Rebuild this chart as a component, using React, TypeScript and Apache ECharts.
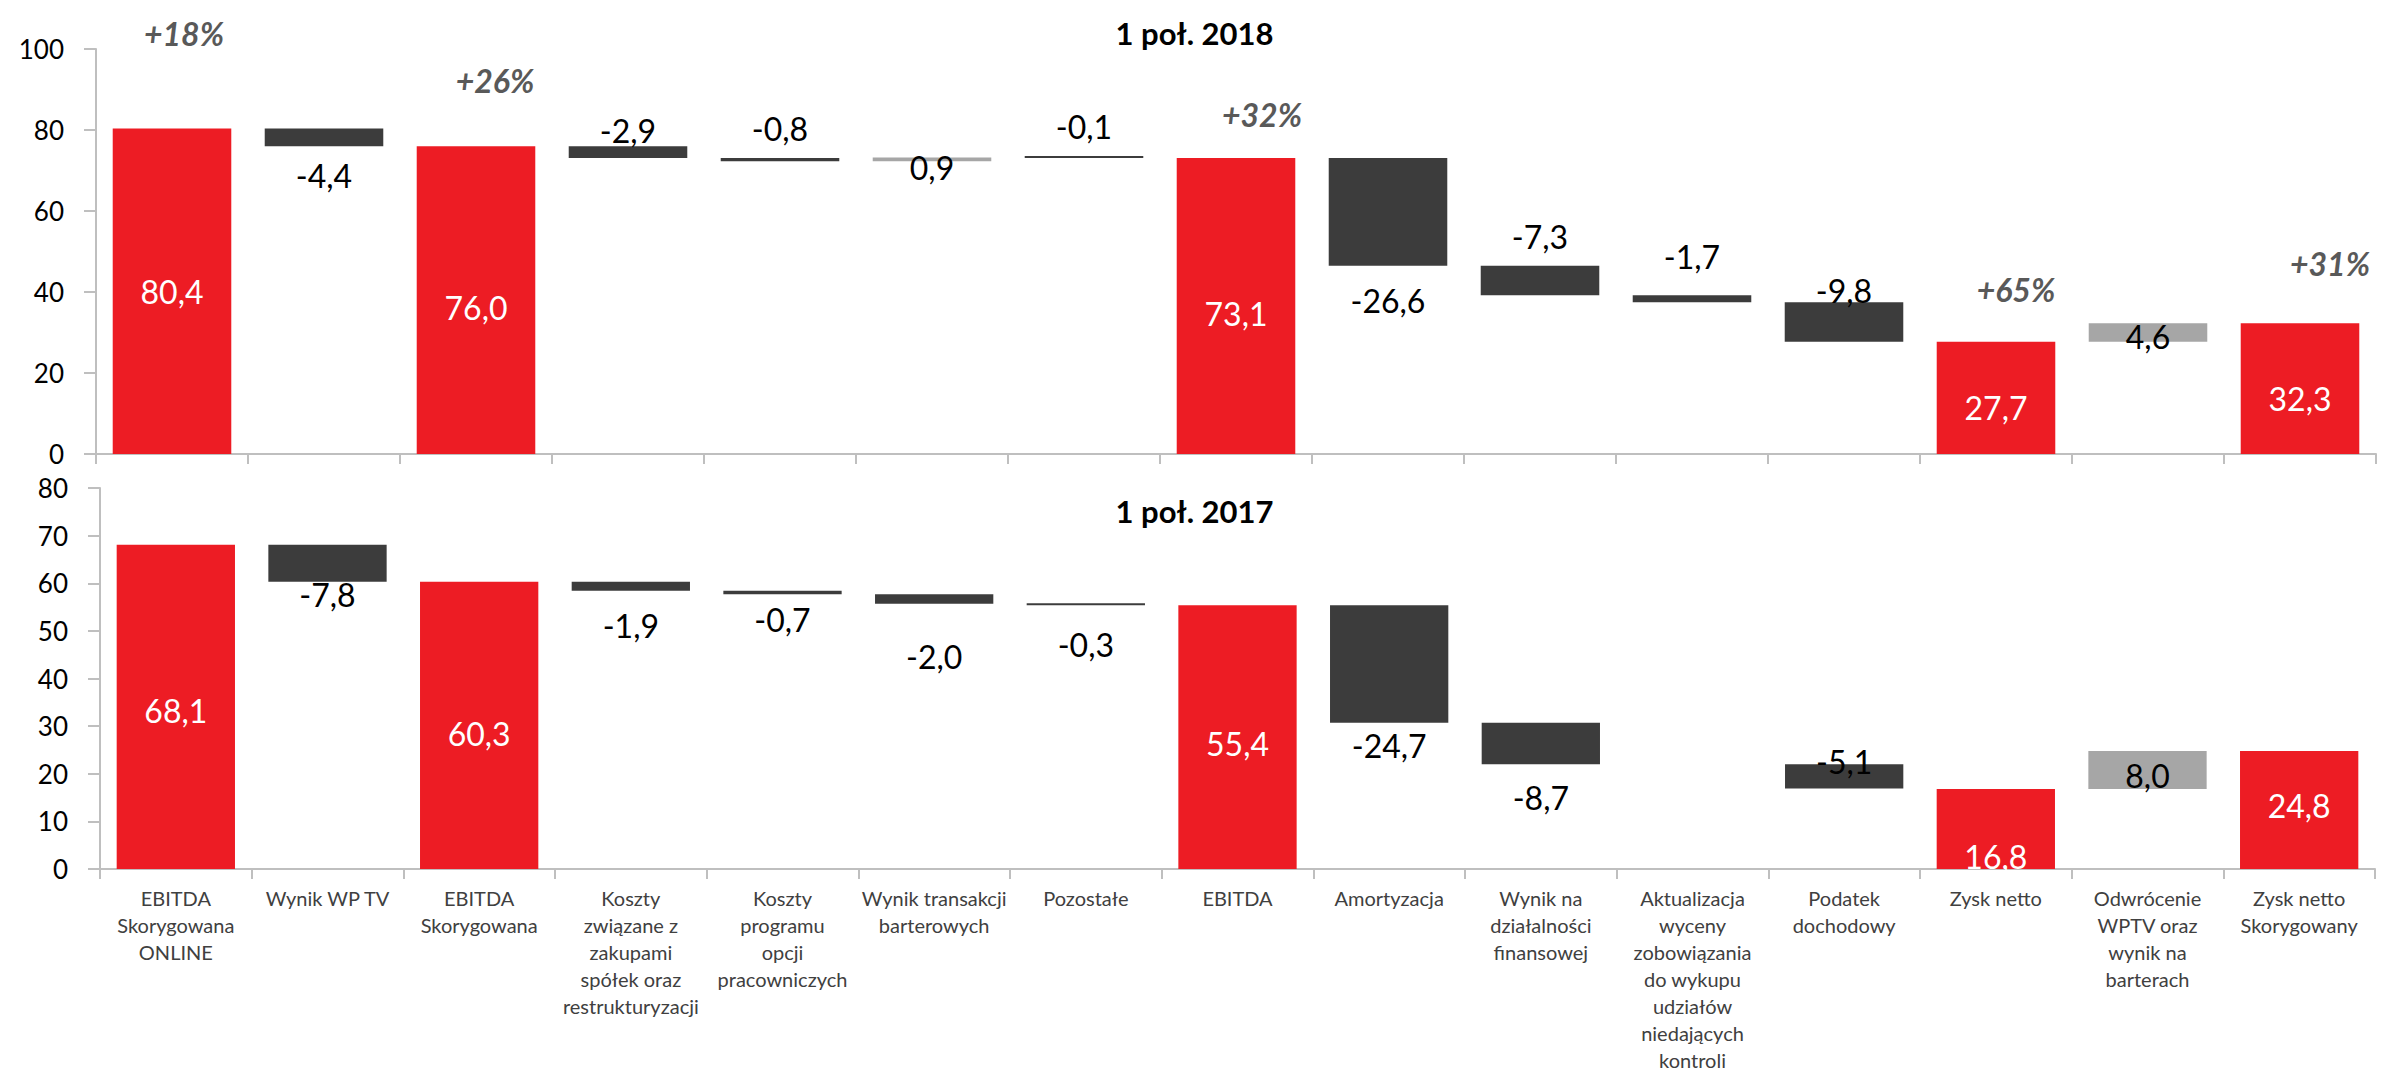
import React, { useEffect, useRef } from "react";
import * as echarts from "echarts";

// ---------- data ----------
const categories = [
  "EBITDA\nSkorygowana\nONLINE",
  "Wynik WP TV",
  "EBITDA\nSkorygowana",
  "Koszty\nzwiązane z\nzakupami\nspółek oraz\nrestrukturyzacji",
  "Koszty\nprogramu\nopcji\npracowniczych",
  "Wynik transakcji\nbarterowych",
  "Pozostałe",
  "EBITDA",
  "Amortyzacja",
  "Wynik na\ndziałalności\nfinansowej",
  "Aktualizacja\nwyceny\nzobowiązania\ndo wykupu\nudziałów\nniedających\nkontroli",
  "Podatek\ndochodowy",
  "Zysk netto",
  "Odwrócenie\nWPTV oraz\nwynik na\nbarterach",
  "Zysk netto\nSkorygowany",
];
const kinds = [
  "total", "delta", "total", "delta", "delta", "delta", "delta", "total",
  "delta", "delta", "delta", "delta", "total", "delta", "total",
];
const values2018 = [80.4, -4.4, 76.0, -2.9, -0.8, 0.9, -0.1, 73.1, -26.6, -7.3, -1.7, -9.8, 27.7, 4.6, 32.3];
const values2017 = [68.1, -7.8, 60.3, -1.9, -0.7, -2.0, -0.3, 55.4, -24.7, -8.7, null, -5.1, 16.8, 8.0, 24.8];
const growth2018 = ["+18%", "", "+26%", "", "", "", "", "+32%", "", "", "", "", "+65%", "", "+31%"];
const title2018 = "1 poł. 2018";
const title2017 = "1 poł. 2017";
const yAxis2018 = [0, 100, 20]; // min, max, interval
const yAxis2017 = [0, 80, 10];

// ---------- label placement (style) ----------
const labelPos2018 = ["inside", "bottom", "inside", "top", "top", "bottom", "top", "inside", "bottom", "top", "top", "top", "inside", "inside", "inside"];
const labelShift2018 = [0, 13, 7, 0, 13, -10, 13, 8, 19, 13, 23, -4, 10, 4, 10];
const labelPos2017 = ["inside", "bottom", "inside", "bottom", "bottom", "bottom", "bottom", "inside", "bottom", "bottom", "none", "top", "inside", "inside", "inside"];
const labelShift2017 = [4, -3, 8, 19, 9, 37, 23, 6, 7, 17, 0, -13, 28, 6, -4];
const pctGap2018 = [79, 0, 50, 0, 0, 0, 0, 27, 0, 0, 0, 0, 36, 0, 44];
const pctDx2018 = [12, 0, 19, 0, 0, 0, 0, 26, 0, 0, 0, 0, 20, 0, 30];

const RED = "#ED1C24";
const DARK = "#3C3C3C";
const GRAY = "#A6A6A6";
const AXIS = "#BFBFBF";
const FONT = "Lato";

const fmt = (v: number) => v.toFixed(1).replace(".", ",");

function waterfall(values: (number | null)[]) {
  let run = 0;
  const base: any[] = [];
  const height: any[] = [];
  values.forEach((v, i) => {
    if (v === null) {
      base.push("-");
      height.push("-");
      return;
    }
    if (kinds[i] === "total") {
      base.push(0);
      height.push(v);
      run = v;
    } else {
      const end = run + v;
      base.push(Math.min(run, end));
      height.push(Math.abs(v));
      run = end;
    }
  });
  return { base, height };
}

function buildSeries(
  values: (number | null)[],
  pos: string[],
  shift: number[],
  idx: number,
  growth?: string[],
  pctGap?: number[],
  pctDx?: number[]
) {
  const { base, height } = waterfall(values);
  const stack = "w" + idx;
  const series: any[] = [
    {
      type: "bar",
      xAxisIndex: idx,
      yAxisIndex: idx,
      stack,
      silent: true,
      itemStyle: { color: "transparent" },
      data: base,
      barCategoryGap: "22%",
    },
    {
      type: "bar",
      xAxisIndex: idx,
      yAxisIndex: idx,
      stack,
      barMinHeight: 2,
      barCategoryGap: "22%",
      data: values.map((v, i) => {
        if (v === null) return "-";
        const isTotal = kinds[i] === "total";
        const color = isTotal ? RED : v < 0 ? DARK : GRAY;
        const p = pos[i];
        const label: any =
          p === "inside"
            ? { position: "inside", offset: [0, shift[i]], color: isTotal ? "#FFFFFF" : "#000000" }
            : { position: p, distance: shift[i], color: "#000000" };
        return { value: height[i], itemStyle: { color }, label };
      }),
      label: {
        show: true,
        fontFamily: FONT,
        fontSize: 32,
        lineHeight: 32,
        formatter: (pr: any) => {
          const v = values[pr.dataIndex];
          return v === null ? "" : fmt(v);
        },
      },
    },
  ];
  if (growth && pctGap && pctDx) {
    series.push({
      type: "bar",
      xAxisIndex: idx,
      yAxisIndex: idx,
      stack,
      silent: true,
      itemStyle: { color: "transparent" },
      barCategoryGap: "22%",
      data: growth.map((g, i) =>
        g ? { value: 0, label: { distance: pctGap[i], offset: [pctDx[i], 0] } } : "-"
      ),
      label: {
        show: true,
        position: "top",
        fontFamily: FONT,
        fontSize: 32,
        lineHeight: 32,
        fontStyle: "italic",
        fontWeight: "bold",
        color: "#595959",
        formatter: (pr: any) => growth[pr.dataIndex],
      },
    });
  }
  return series;
}

function xAxis(idx: number, showLabels: boolean) {
  return {
    type: "category",
    gridIndex: idx,
    data: categories,
    axisLine: { show: true, lineStyle: { color: AXIS, width: 2 } },
    axisTick: { show: true, length: 10, lineStyle: { color: AXIS, width: 2 } },
    axisLabel: {
      show: showLabels,
      interval: 0,
      fontFamily: FONT,
      fontSize: 20,
      lineHeight: 27,
      color: "#404040",
      margin: 15,
      verticalAlign: "top",
    },
    splitLine: { show: false },
  };
}

function yAxis(idx: number, cfg: number[]) {
  return {
    type: "value",
    gridIndex: idx,
    min: cfg[0],
    max: cfg[1],
    interval: cfg[2],
    axisLine: { show: true, lineStyle: { color: AXIS, width: 2 } },
    axisTick: { show: true, length: 12, lineStyle: { color: AXIS, width: 2 } },
    axisLabel: { fontFamily: FONT, fontSize: 26, color: "#000000", margin: 32 },
    splitLine: { show: false },
  };
}

export default function App() {
  const ref = useRef<HTMLDivElement>(null);
  useEffect(() => {
    if (!ref.current) return;
    const chart = echarts.init(ref.current, undefined, { renderer: "svg" });
    chart.setOption({
      animation: false,
      backgroundColor: "#FFFFFF",
      title: [
        {
          text: title2018,
          left: "center",
          top: 12,
          textStyle: { fontFamily: FONT, fontSize: 31, fontWeight: "bold", color: "#000", lineHeight: 32 },
        },
        {
          text: title2017,
          left: "center",
          top: 490,
          textStyle: { fontFamily: FONT, fontSize: 31, fontWeight: "bold", color: "#000", lineHeight: 32 },
        },
      ],
      grid: [
        { left: 96, top: 49, width: 2280, height: 405 },
        { left: 100, top: 488, width: 2275, height: 384 },
      ],
      xAxis: [xAxis(0, false), xAxis(1, true)],
      yAxis: [yAxis(0, yAxis2018), yAxis(1, yAxis2017)],
      series: [
        ...buildSeries(values2018, labelPos2018, labelShift2018, 0, growth2018, pctGap2018, pctDx2018),
        ...buildSeries(values2017, labelPos2017, labelShift2017, 1),
      ],
    });
    return () => chart.dispose();
  }, []);
  return (
    <div
      ref={ref}
      style={{ position: "absolute", left: 0, top: 0, width: 2389, height: 1073, background: "#fff" }}
    />
  );
}
